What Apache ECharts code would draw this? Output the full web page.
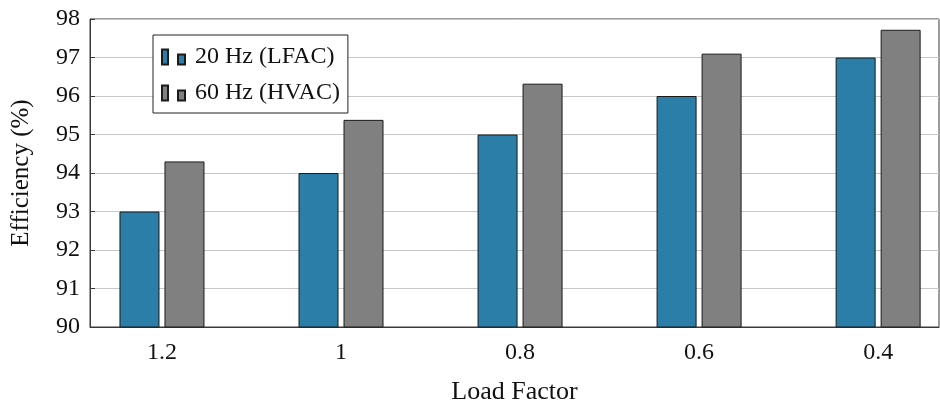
<!DOCTYPE html>
<html>
<head>
<meta charset="utf-8">
<script src="https://cdn.jsdelivr.net/npm/echarts@6/dist/echarts.min.js"></script>
<style>
  html, body { margin: 0; padding: 0; background: #fff; }
  #chart { width: 940px; height: 406px; }
</style>
</head>
<body>
<div id="chart"></div>
<script>
// Load factor categories along the x axis
const loadFactors = ['1.2', '1', '0.8', '0.6', '0.4'];
// Efficiency (%) at each load factor
const lfac20 = [93, 94, 95, 96, 97];
const hvac60 = [94.3, 95.38, 96.32, 97.1, 97.72];
const seriesNames = ['20 Hz (LFAC)', '60 Hz (HVAC)'];
const yTicks = [90, 91, 92, 93, 94, 95, 96, 97, 98];

const FONT = 'Liberation Serif';
const chart = echarts.init(document.getElementById('chart'), null, { renderer: 'canvas' });

const toPoints = arr => arr.map((v, i) => [i, v]);
const catIdx = loadFactors.map((_, i) => i);

chart.setOption({
  animation: false,
  backgroundColor: '#fff',
  grid: {
    left: 90, right: 1, top: 19, bottom: 79,
    outerBoundsMode: 'none',
    containLabel: false,
    show: true, borderColor: '#3a3a3a', borderWidth: 1, backgroundColor: 'transparent'
  },
  legend: {
    orient: 'vertical',
    left: 153, top: 35,
    padding: [9, 8, 7, 8],
    itemGap: 10,
    itemWidth: 23, itemHeight: 15,
    icon: 'path://M0,0H6V15H0Z M16,5H23V15H16Z',
    borderColor: '#222', borderWidth: 1,
    backgroundColor: '#fff',
    textStyle: { fontFamily: FONT, fontSize: 24, color: '#111', lineHeight: 26, padding: [0, 0, 0, 5] },
    data: seriesNames
  },
  xAxis: {
    type: 'value',
    min: -0.402, max: 4.34,
    name: 'Load Factor',
    nameLocation: 'middle',
    nameGap: 52,
    nameTextStyle: { fontFamily: FONT, fontSize: 26, color: '#111' },
    axisLine: { show: true, onZero: false, lineStyle: { color: '#3a3a3a', width: 1 } },
    axisTick: { show: false },
    splitLine: { show: false },
    axisLabel: {
      customValues: catIdx,
      formatter: v => loadFactors[Math.round(v)],
      fontFamily: FONT, fontSize: 24, color: '#111', margin: 14
    }
  },
  yAxis: {
    type: 'value',
    min: 90, max: 98, interval: 1,
    name: 'Efficiency (%)',
    nameLocation: 'middle',
    nameGap: 56,
    nameRotate: 90,
    nameTextStyle: { fontFamily: FONT, fontSize: 25, color: '#111' },
    axisLine: { show: true, onZero: false, lineStyle: { color: '#3a3a3a', width: 1 } },
    axisTick: { show: true, inside: true, length: 5, lineStyle: { color: '#3a3a3a' } },
    splitLine: { show: true, lineStyle: { color: '#c8c8c8', width: 1 } },
    axisLabel: {
      customValues: yTicks,
      fontFamily: FONT, fontSize: 24, color: '#111', margin: 10
    }
  },
  series: [
    {
      name: seriesNames[0],
      type: 'bar',
      data: toPoints(lfac20),
      barWidth: 40,
      barGap: '12.5%',
      itemStyle: { color: '#2b7ea7', borderColor: '#1a1a1a', borderWidth: 1 }
    },
    {
      name: seriesNames[1],
      type: 'bar',
      data: toPoints(hvac60),
      barWidth: 40,
      barGap: '12.5%',
      itemStyle: { color: '#808080', borderColor: '#1a1a1a', borderWidth: 1 }
    }
  ]
});
</script>
</body>
</html>
